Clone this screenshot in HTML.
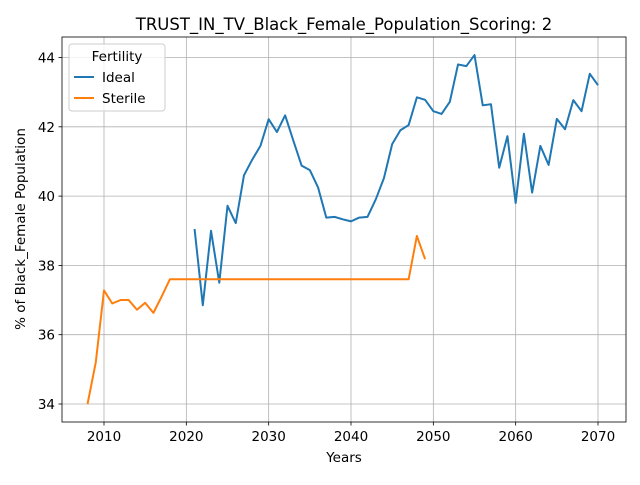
<!DOCTYPE html>
<html><head><meta charset="utf-8"><style>
body{margin:0;background:#fff;font-family:"Liberation Sans","DejaVu Sans",sans-serif}
svg text{font-family:"DejaVu Sans","Liberation Sans",sans-serif}
</style></head><body>
<svg id="chart" width="640" height="480" xmlns="http://www.w3.org/2000/svg">
<rect width="640" height="480" fill="#fff"/>
<g id="grid"></g><g id="series"></g><g id="axes"></g>
</svg>
<script>
const idealYears = [];
for (let y = 2021; y <= 2070; y++) idealYears.push(y);
const idealValues = [39.05,36.85,39.0,37.5,39.72,39.22,40.6,41.05,41.45,42.22,41.85,42.33,41.6,40.88,40.75,40.25,39.38,39.4,39.33,39.27,39.38,39.4,39.9,40.52,41.5,41.9,42.05,42.85,42.78,42.45,42.37,42.72,43.8,43.75,44.07,42.62,42.65,40.82,41.73,39.8,41.8,40.1,41.45,40.9,42.23,41.93,42.77,42.45,43.53,43.2];
const sterileYears = [];
for (let y = 2008; y <= 2049; y++) sterileYears.push(y);
const sterileValues = [34.0,35.2,37.28,36.9,37.0,37.0,36.72,36.92,36.63,37.1,37.6,37.6,37.6,37.6,37.6,37.6,37.6,37.6,37.6,37.6,37.6,37.6,37.6,37.6,37.6,37.6,37.6,37.6,37.6,37.6,37.6,37.6,37.6,37.6,37.6,37.6,37.6,37.6,37.6,37.6,38.85,38.18];
const xTicks = [2010,2020,2030,2040,2050,2060,2070];
const yTicks = [34,36,38,40,42,44];

const L=62,R=626,T=37,B=422;
const xs = v => 104 + (v-2010)*(598-104)/60;
const ys = v => 404 - (v-34)*(404-57.5)/10;
const NS="http://www.w3.org/2000/svg";
function mk(tag, attrs, parent){const e=document.createElementNS(NS,tag);for(const k in attrs)e.setAttribute(k,attrs[k]);parent.appendChild(e);return e;}
const grid=document.getElementById('grid'), series=document.getElementById('series'), axes=document.getElementById('axes');
xTicks.forEach(t=>{
  const g=mk('line',{x1:xs(t),x2:xs(t),y1:T,y2:B,stroke:'#b0b0b0','stroke-width':0.8},grid);
  
  
  mk('line',{x1:xs(t),x2:xs(t),y1:B,y2:B+3.5,stroke:'#000','stroke-width':0.8},axes);
  const tx=mk('text',{x:xs(t),y:B+19,'text-anchor':'middle','font-size':13.5},axes);
  tx.textContent=t;
  
  
});
yTicks.forEach(t=>{
  const g=mk('line',{x1:L,x2:R,y1:ys(t),y2:ys(t),stroke:'#b0b0b0','stroke-width':0.8},grid);
  
  
  mk('line',{x1:L-3.5,x2:L,y1:ys(t),y2:ys(t),stroke:'#000','stroke-width':0.8},axes);
  const tx=mk('text',{x:L-7,y:ys(t)+5,'text-anchor':'end','font-size':13.5},axes);
  tx.textContent=t;
  
  
});
function line(xv,yv,color,name){
  const p=mk('polyline',{points:xv.map((x,i)=>xs(x)+','+ys(yv[i])).join(' '),fill:'none',stroke:color,'stroke-width':2,'stroke-linejoin':'round'},series);
  
  
}
line(idealYears,idealValues,'#1f77b4','ideal-line');
line(sterileYears,sterileValues,'#ff7f0e','sterile-line');
const fr=mk('rect',{x:L,y:T,width:R-L,height:B-T,fill:'none',stroke:'#000','stroke-width':0.8},axes);


</script>
<svg style="position:absolute;left:0;top:0" width="640" height="480">
<text x="344" y="30" text-anchor="middle" font-size="16.5">TRUST_IN_TV_Black_Female_Population_Scoring: 2</text>
<text x="344" y="462" text-anchor="middle" font-size="13.5">Years</text>
<text transform="translate(25,229) rotate(-90)" text-anchor="middle" font-size="13.5">% of Black_Female Population</text>
<g>
<rect x="69" y="44" width="96" height="67" rx="3" fill="#fff" fill-opacity="0.8" stroke="#ccc"/>
<text x="117" y="61" text-anchor="middle" font-size="13.5">Fertility</text>
<line x1="74" x2="94" y1="77" y2="77" stroke="#1f77b4" stroke-width="2"/>
<text x="102" y="82" font-size="13.5">Ideal</text>
<line x1="74" x2="94" y1="98" y2="98" stroke="#ff7f0e" stroke-width="2"/>
<text x="102" y="103" font-size="13.5">Sterile</text>
</g>
</svg>
</body></html>
